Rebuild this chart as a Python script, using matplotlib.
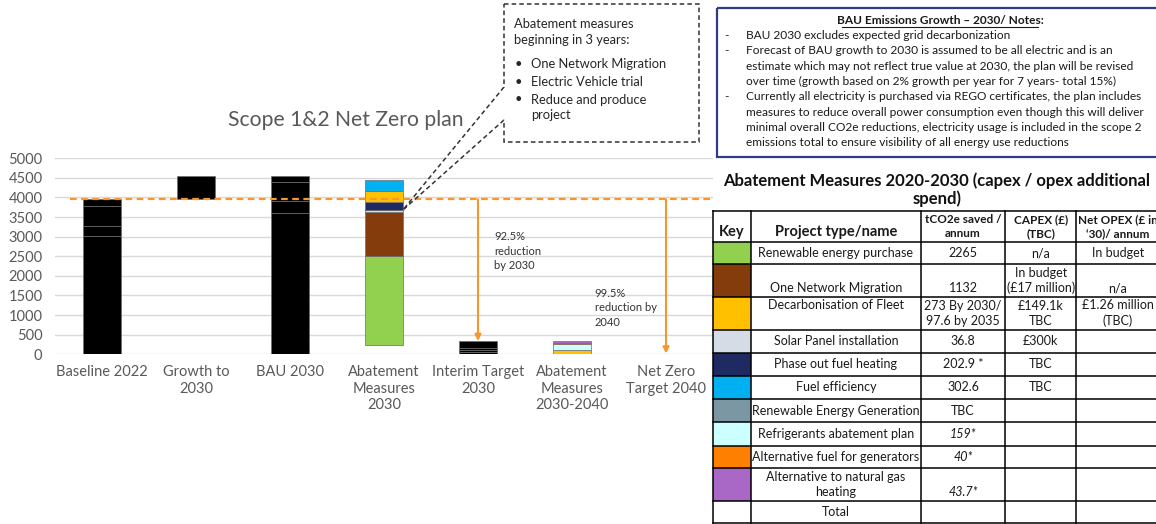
import numpy as np
import matplotlib
matplotlib.use("Agg")
import matplotlib.pyplot as plt
from matplotlib.patches import Polygon, Rectangle

plt.rcParams['font.family'] = ['Lato', 'DejaVu Sans']

# ---- chart data ----
categories = ['Baseline 2022', 'Growth to\n2030', 'BAU 2030', 'Abatement\nMeasures\n2030',
              'Interim Target\n2030', 'Abatement\nMeasures\n2030-2040', 'Net Zero\nTarget 2040']
baseline_segments = [3030, 250, 500, 170]
growth_bottom = 3950
growth_value = 595
bau_segments = [3612, 297, 474, 162]
abatement_base = 245
abatement_2030 = [2265, 1132, 36.8, 202.9, 273, 302.6]
abatement_2030_colors = ['#92D050', '#843C0C', '#D6DCE5', '#1F2A63', '#FFC000', '#00B0F0']
interim_segments = [50, 60, 58, 170]
abatement_2040 = [97.6, 159, 40, 43.7]
abatement_2040_colors = ['#FFC000', '#CCFFFF', '#FF8000', '#A968C6']
baseline_level = 3950
net_zero_level = 20

# ---- table data ----
table_title = 'Abatement Measures 2020-2030 (capex / opex additional\nspend)'
table_headers = ['Key', 'Project type/name', 'tCO2e saved /\nannum', 'CAPEX (£)\n(TBC)',
                 'Net OPEX (£ in\n\u201830)/ annum']
key_colors = ['#92D050', '#843C0C', '#FFC000', '#D6DCE5', '#1F2A63', '#00B0F0',
              '#7A97A3', '#CCFFFF', '#FF8000', '#A968C6', 'white']
project_names = ['Renewable energy purchase', 'One Network Migration', 'Decarbonisation of Fleet',
                 'Solar Panel installation', 'Phase out fuel heating', 'Fuel efficiency',
                 'Renewable Energy Generation', 'Refrigerants abatement plan',
                 'Alternative fuel for generators', 'Alternative to natural gas\nheating', 'Total']
tco2e_saved = ['2265', '1132', '273 By 2030/\n97.6 by 2035', '36.8', '202.9 *', '302.6',
               'TBC', '159*', '40*', '43.7*', '']
capex = ['n/a', 'In budget\n(£17 million)', '£149.1k\nTBC', '£300k', 'TBC', 'TBC',
         '', '', '', '', '']
net_opex = ['In budget', 'n/a', '£1.26 million\n(TBC)', '', '', '', '', '', '', '', '']
italic_values = ['159*', '40*', '43.7*']

notes_title = 'BAU Emissions Growth \u2013 2030/ Notes:'
notes = [
    ['BAU 2030 excludes expected grid decarbonization'],
    ['Forecast of BAU growth to 2030 is assumed to be all electric and is an',
     'estimate which may not reflect true value at 2030, the plan will be revised',
     'over time (growth based on 2% growth per year for 7 years- total 15%)'],
    ['Currently all electricity is purchased via REGO certificates, the plan includes',
     'measures to reduce overall power consumption even though this will deliver',
     'minimal overall CO2e reductions, electricity usage is included in the scope 2',
     'emissions total to ensure visibility of all energy use reductions'],
]
callout_lines = ['One Network Migration', 'Electric Vehicle trial', 'Reduce and produce\nproject']

W, H = 1156, 524
fig = plt.figure(figsize=(W / 100, H / 100), dpi=100)


def px_rect(x0, y0, x1, y1):
    return [x0 / W, 1 - y1 / H, (x1 - x0) / W, (y1 - y0) / H]


grey = '#595959'
orange = '#F7962A'
edge = '#6E6E6E'
ink = '#1a1a1a'

ax = fig.add_axes(px_rect(55, 158.3, 713, 354.3))
x = np.arange(len(categories))
bw = 0.4


def stack(xpos, values, colors, base=0):
    bottom = base
    for v, c in zip(values, colors):
        ax.bar(xpos, v, bw, bottom=bottom, color=c, edgecolor=edge, linewidth=0.5, zorder=3)
        bottom += v
    return bottom


stack(x[0], baseline_segments, ['black'] * len(baseline_segments))
stack(x[1], [growth_value], ['black'], base=growth_bottom)
stack(x[2], bau_segments, ['black'] * len(bau_segments))
stack(x[3], abatement_2030, abatement_2030_colors, base=abatement_base)
interim_top = stack(x[4], interim_segments, ['black'] * len(interim_segments))
stack(x[5], abatement_2040, abatement_2040_colors)

ax.set_xlim(-0.5, len(categories) - 0.5)
ax.set_ylim(0, 5000)
ax.set_yticks(np.arange(0, 5001, 500))
ax.set_xticks(x, categories)
ax.yaxis.grid(True, color='#D9D9D9', linewidth=1)
ax.set_axisbelow(True)
for s in ax.spines.values():
    s.set_visible(False)
ax.tick_params(axis='both', length=0, colors=grey, labelsize=10.5)
ax.tick_params(axis='y', pad=9)
ax.tick_params(axis='x', pad=8)
for lbl in ax.get_xticklabels():
    lbl.set_linespacing(1.2)

ax.hlines(baseline_level, -0.34, len(categories) - 0.5, colors=orange,
          linestyles=(0, (3, 2)), linewidth=1.6, zorder=4)
for xpos, target in [(x[4], interim_top), (x[6], net_zero_level)]:
    ax.annotate('', xy=(xpos, target), xytext=(xpos, baseline_level),
                arrowprops=dict(arrowstyle='-|>', color=orange, lw=1.5,
                                mutation_scale=9, shrinkA=0, shrinkB=0), zorder=4)
ax.text(x[4] + 0.17, 3140, '92.5%\nreduction\nby 2030', fontsize=8, color='#333333',
        va='top', ha='left', linespacing=1.4)
ax.text(x[5] + 0.24, 1700, '99.5%\nreduction by\n2040', fontsize=8, color='#333333',
        va='top', ha='left', linespacing=1.4)

# overlay in image pixel coordinates
ov = fig.add_axes([0, 0, 1, 1])
ov.set_xlim(0, W)
ov.set_ylim(H, 0)
ov.axis('off')

ov.text(346, 120, 'Scope 1&2 Net Zero plan', ha='center', va='center', fontsize=15.2, color=grey)

# callout pointing at the abatement bar
tip_val = abatement_base + sum(abatement_2030[:3])
tip = ov.transData.inverted().transform(ax.transData.transform((x[3] + bw / 2, tip_val)))
callout = Polygon([(504, 4), (699, 4), (699, 142), (504, 142), (504, 120), tuple(tip), (504, 87)],
                  closed=True, fill=False, edgecolor='#333333', linewidth=1.1,
                  linestyle=(0, (3, 2)), zorder=5)
ov.add_patch(callout)
ov.text(514, 32, 'Abatement measures\nbeginning in 3 years:', fontsize=9.3, color='#262626',
        va='center', ha='left', linespacing=1.3)
by = 64
for line in callout_lines:
    ov.text(515, by, '\u2022', fontsize=9.3, color='#262626', va='center', ha='left')
    ov.text(531, by + 8.5 * line.count('\n'), line, fontsize=9.3, color='#262626', va='center',
            ha='left', linespacing=1.3)
    by += 17.5 * (line.count('\n') + 1)

# notes box
ov.add_patch(Rectangle((717, 8), 460, 149, fill=False, edgecolor='#2F3B86', linewidth=1.6))
ov.text(940, 20, notes_title, fontsize=8.6, fontweight='bold', ha='center', va='center',
        color=ink)
ov.plot([842, 1038], [26.5, 26.5], color=ink, linewidth=0.8)
ly = 35.5
for note in notes:
    ov.text(724, ly, '-', fontsize=8.6, ha='left', va='center', color=ink)
    for line in note:
        ov.text(746, ly, line, fontsize=8.6, ha='left', va='center', color=ink)
        ly += 15.3

# abatement table
ov.text(937, 190, table_title, fontsize=12, fontweight='bold', ha='center', va='center',
        color='#111111', linespacing=1.1)
col_x = [712.7, 751, 920.7, 1005.3, 1076, 1160]
row_y = [210.7, 242.3, 264.3, 296.7, 330, 352.7, 375.7, 399, 422.3, 445.7, 468.3, 500.7, 523.3]
# vertical placement per body row for name / saved / capex / opex
valign = [['c'] * 4, ['b', 'b', 'c', 'b'], ['t', 'c', 'c', 'c']] + [['c'] * 4] * 6 + \
         [['c', 'b', 'c', 'c'], ['c'] * 4]

for i, c in enumerate(key_colors):
    ov.add_patch(Rectangle((col_x[0], row_y[i + 1]), col_x[1] - col_x[0],
                           row_y[i + 2] - row_y[i + 1], facecolor=c, edgecolor='none'))
for yy in row_y:
    ov.plot([col_x[0], col_x[-1]], [yy, yy], color='black', linewidth=1.1)
for xx in col_x[:-1]:
    ov.plot([xx, xx], [row_y[0], row_y[-1]], color='black', linewidth=1.1)

hdr_sizes = [10.5, 10.5, 8.5, 8.5, 8.5]
for j, h in enumerate(table_headers):
    cx = (col_x[j] + col_x[j + 1]) / 2
    if '\n' in h:
        ov.text(cx, (row_y[0] + row_y[1]) / 2, h, fontsize=hdr_sizes[j], fontweight='bold',
                ha='center', va='center', linespacing=1.3, color=ink)
    else:
        ov.text(cx, row_y[1] - 3, h, fontsize=hdr_sizes[j], fontweight='bold',
                ha='center', va='bottom', color=ink)

for i in range(len(project_names)):
    top, bot = row_y[i + 1], row_y[i + 2]
    cells = [project_names[i], tco2e_saved[i], capex[i], net_opex[i]]
    for j, txt in enumerate(cells):
        if not txt:
            continue
        cx = (col_x[j + 1] + col_x[j + 2]) / 2
        va = {'c': 'center', 'b': 'bottom', 't': 'top'}[valign[i][j]]
        ty = {'center': (top + bot) / 2, 'bottom': bot - 2.5, 'top': top + 2}[va]
        ov.text(cx, ty, txt, fontsize=9, ha='center', va=va, color=ink,
                linespacing=1.3, style='italic' if txt in italic_values else 'normal')

fig.savefig('out.png', dpi=100)
